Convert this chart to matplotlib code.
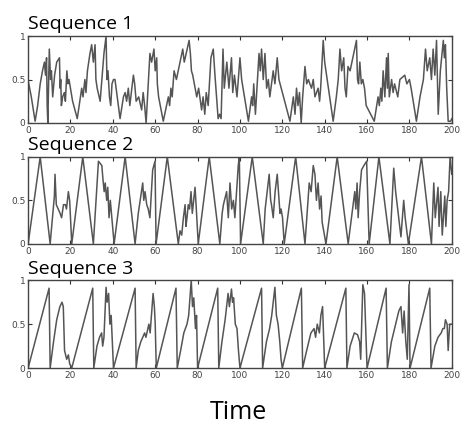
import matplotlib
matplotlib.use("Agg")
import matplotlib.pyplot as plt

# Breakpoints: time, value
t1 = [0, 1.5, 3.3, 4.5, 5.7, 6.8, 7.7, 8.2, 8.7, 9.0, 9.3, 10.0, 10.6, 11.0, 11.6, 12.5, 13.5, 14.8, 15.1, 15.4,
      15.7, 16.3, 17.1, 17.6, 18.3, 18.8, 19.3, 21.0, 23.2, 25.3, 25.9, 26.8, 27.3, 28.0, 28.6, 29.2, 30.0, 30.8, 31.6, 32.0,
      32.6, 34.0, 35.0, 35.8, 36.8, 37.2, 37.7, 38.4, 39.0, 39.6, 40.3, 41.0, 43.4, 45.0, 45.8, 46.5, 47.3, 48.0, 49.7, 50.3,
      51.0, 52.2, 53.6, 54.3, 55.0, 55.7, 57.5, 58.3, 59.4, 60.0, 60.7, 61.0, 61.6, 63.8, 66.2, 66.8, 67.4, 68.0, 68.9, 70.0,
      73.0, 73.7, 76.0, 76.6, 77.1, 77.7, 79.6, 80.5, 81.9, 82.6, 83.4, 84.1, 85.0, 86.3, 87.4, 88.2, 89.7, 90.4, 91.1, 92.0,
      92.6, 93.8, 94.8, 96.0, 96.6, 97.4, 98.6, 100.0, 100.8, 104.0, 105.5, 106.0, 106.5, 107.3, 109.0, 109.6, 110.2, 111.0, 111.8, 112.6,
      113.4, 114.1, 115.7, 116.5, 117.6, 118.4, 123.6, 125.2, 126.0, 126.7, 127.4, 128.1, 128.9, 129.6, 130.7, 131.5, 132.3, 133.0, 133.8, 134.6,
      135.4, 136.9, 137.6, 138.1, 139.3, 140.0, 144.0, 145.5, 146.4, 147.2, 148.0, 149.0, 149.6, 150.2, 151.0, 152.0, 155.0, 155.5, 156.0, 156.6,
      157.3, 158.0, 158.8, 159.6, 163.4, 165.2, 165.8, 166.5, 167.0, 167.6, 168.4, 169.2, 169.6, 170.0, 170.5, 171.6, 172.3, 173.0, 174.5, 175.5,
      177.8, 178.8, 180.0, 180.8, 183.3, 185.0, 186.6, 187.6, 188.4, 189.6, 190.4, 191.2, 192.0, 192.8, 193.6, 194.6, 196.0, 196.5, 197.0, 197.6,
      198.3, 199.5, 200]
v1 = [0.49, 0.3, 0.02, 0.2, 0.45, 0.6, 0.7, 0.55, 0.75, 0.2, 0.0, 0.85, 0.5, 0.6, 0.3, 0.55, 0.7, 0.75, 0.4, 0.5,
      0.2, 0.3, 0.35, 0.25, 0.6, 0.45, 0.5, 0.25, 0.05, 0.4, 0.3, 0.5, 0.35, 0.6, 0.7, 0.8, 0.9, 0.7, 0.9, 0.5,
      0.4, 0.25, 0.55, 0.8, 1.0, 0.5, 0.6, 0.3, 0.2, 0.45, 0.5, 0.5, 0.05, 0.3, 0.35, 0.25, 0.4, 0.2, 0.55, 0.45,
      0.25, 0.3, 0.15, 0.35, 0.2, 0.0, 0.8, 0.7, 0.85, 0.6, 0.75, 0.45, 0.3, 0.02, 0.3, 0.2, 0.4, 0.3, 0.6, 0.5,
      0.85, 0.7, 0.95, 0.8, 0.6, 0.55, 0.3, 0.4, 0.15, 0.3, 0.1, 0.35, 0.2, 0.75, 0.85, 0.55, 0.05, 0.1, 0.05, 0.85,
      0.4, 0.7, 0.4, 0.75, 0.35, 0.55, 0.3, 0.75, 0.5, 0.02, 0.3, 0.2, 0.45, 0.1, 0.8, 0.6, 0.85, 0.5, 0.8, 0.4,
      0.5, 0.3, 0.6, 0.45, 0.75, 0.5, 0.02, 0.3, 0.1, 0.4, 0.2, 0.35, 0.0, 0.3, 0.65, 0.45, 0.5, 0.45, 0.4, 0.5,
      0.3, 0.4, 0.25, 0.4, 0.95, 0.7, 0.02, 0.3, 0.5, 0.85, 0.6, 0.75, 0.4, 0.3, 0.65, 0.6, 0.95, 0.5, 0.45, 0.7,
      0.45, 0.5, 0.4, 0.2, 0.02, 0.3, 0.2, 0.4, 0.25, 0.6, 0.3, 0.75, 0.4, 0.8, 0.3, 0.5, 0.35, 0.45, 0.3, 0.5,
      0.55, 0.45, 0.5, 0.4, 0.02, 0.3, 0.5, 0.85, 0.6, 0.75, 0.5, 0.85, 0.55, 0.95, 0.1, 0.6, 0.95, 0.75, 0.9, 0.4,
      0.02, 0.02, 0.05]

t2 = [0, 5.7, 10.4, 12.4, 12.7, 13.3, 15.1, 15.8, 16.7, 17.6, 18.1, 19.0, 19.6, 20.6, 25.8, 30.8, 33.2, 34.8, 35.3, 35.9,
      36.4, 37.1, 37.6, 38.2, 38.8, 40.6, 45.8, 50.5, 52.0, 54.1, 54.6, 55.2, 56.0, 56.7, 57.5, 58.8, 59.9, 60.4, 65.7, 70.9,
      71.7, 72.5, 73.3, 74.1, 74.5, 75.0, 75.6, 76.2, 76.9, 77.5, 78.8, 79.4, 80.3, 85.5, 90.5, 91.6, 92.2, 93.7, 94.5, 95.3,
      96.1, 96.9, 97.6, 99.2, 99.7, 100.3, 105.8, 111.0, 111.9, 113.8, 114.5, 114.9, 115.7, 116.6, 117.6, 118.9, 119.4, 120.1, 120.9, 126.3,
      130.7, 132.7, 133.6, 134.6, 135.4, 136.1, 136.9, 137.6, 138.3, 138.8, 140.6, 145.9, 151.1, 154.2, 154.7, 155.3, 155.8, 156.5, 157.4, 158.5,
      159.8, 161.0, 165.6, 170.8, 172.6, 173.5, 176.0, 177.3, 178.0, 179.5, 185.7, 190.4, 191.5, 192.2, 193.5, 194.0, 194.8, 195.5, 196.7, 197.2,
      197.8, 198.5, 199.2, 200]
v2 = [0.0, 1.0, 0.0, 0.55, 0.8, 0.45, 0.35, 0.3, 0.45, 0.45, 0.4, 0.6, 0.5, 0.0, 1.0, 0.0, 0.95, 0.9, 0.75, 0.6,
      0.7, 0.5, 0.65, 0.3, 0.5, 0.0, 1.0, 0.0, 0.35, 0.7, 0.5, 0.6, 0.45, 0.4, 0.3, 0.85, 0.95, 0.0, 1.0, 0.0,
      0.15, 0.1, 0.3, 0.45, 0.2, 0.3, 0.45, 0.4, 0.6, 0.35, 0.65, 0.4, 0.0, 1.0, 0.0, 0.35, 0.45, 0.6, 0.3, 0.7,
      0.4, 0.5, 0.3, 0.9, 1.0, 0.0, 1.0, 0.0, 0.4, 0.8, 0.5, 0.45, 0.3, 0.6, 0.8, 0.35, 0.4, 0.3, 0.0, 1.0,
      0.0, 0.7, 0.6, 0.9, 0.8, 0.5, 0.7, 0.4, 0.55, 0.25, 0.0, 1.0, 0.0, 0.6, 0.4, 0.7, 0.3, 0.6, 0.85, 0.9,
      0.95, 0.0, 1.0, 0.0, 0.87, 0.6, 0.08, 0.5, 0.3, 0.0, 1.0, 0.0, 0.7, 0.3, 0.65, 0.2, 0.6, 0.1, 0.55, 0.2,
      0.5, 0.6, 1.0, 0.8]

t3 = [0, 9.9, 10.4, 12.0, 13.5, 15.0, 16.0, 16.6, 17.2, 18.2, 19.0, 19.6, 20.6, 30.5, 31.0, 32.5, 33.7, 34.7, 35.2, 35.8,
      36.8, 37.3, 38.0, 38.6, 39.2, 40.3, 50.5, 51.0, 52.0, 53.2, 55.0, 55.6, 57.0, 57.6, 59.0, 59.6, 60.0, 60.5, 69.8, 70.4,
      72.0, 73.5, 75.0, 75.8, 77.0, 77.6, 78.2, 79.0, 79.5, 80.0, 89.5, 90.0, 91.5, 93.0, 94.4, 95.0, 96.0, 96.5, 97.0, 97.8,
      98.6, 99.3, 100.0, 110.2, 110.7, 112.5, 114.0, 115.0, 116.5, 117.2, 118.0, 118.8, 119.4, 120.0, 129.0, 129.6, 131.5, 133.5, 135.0, 135.7,
      136.5, 137.5, 138.2, 139.0, 140.0, 150.0, 150.5, 152.0, 154.0, 155.5, 156.5, 157.0, 158.0, 158.8, 160.0, 169.0, 169.6, 171.5, 173.5, 175.0,
      176.0, 176.8, 177.5, 178.3, 179.0, 179.8, 180.3, 189.6, 190.2, 192.0, 193.5, 195.0, 195.8, 196.5, 197.0, 197.8, 198.3, 199.0, 200]
v3 = [0.0, 0.91, 0.0, 0.3, 0.55, 0.7, 0.75, 0.7, 0.2, 0.1, 0.15, 0.05, 0.0, 0.91, 0.0, 0.25, 0.35, 0.4, 0.25, 0.35,
      0.92, 0.75, 0.85, 0.5, 0.6, 0.0, 0.91, 0.0, 0.2, 0.3, 0.4, 0.35, 0.5, 0.4, 0.85, 0.7, 0.5, 0.0, 0.91, 0.0,
      0.2, 0.4, 0.5, 0.6, 1.0, 0.7, 0.8, 0.45, 0.6, 0.0, 0.91, 0.0, 0.3, 0.55, 0.85, 0.7, 0.9, 0.75, 0.8, 0.5,
      0.45, 0.2, 0.0, 0.91, 0.0, 0.3, 0.45, 0.6, 0.92, 0.6, 0.5, 0.3, 0.1, 0.0, 0.91, 0.0, 0.2, 0.4, 0.45, 0.35,
      0.5, 0.4, 0.6, 0.7, 0.0, 0.91, 0.0, 0.25, 0.4, 0.38, 0.3, 0.1, 0.95, 0.85, 0.0, 0.91, 0.0, 0.3, 0.5, 0.65,
      0.7, 0.4, 0.65, 0.3, 0.1, 0.95, 0.0, 0.91, 0.0, 0.25, 0.35, 0.4, 0.45, 0.45, 0.55, 0.5, 0.2, 0.5, 0.5]

titles = ["Sequence 1", "Sequence 2", "Sequence 3"]
series = [(t1, v1), (t2, v2), (t3, v3)]

xticks = [0, 20, 40, 60, 80, 100, 120, 140, 160, 180, 200]
yticks = [0, 0.5, 1]
ytick_labels = ["0", "0.5", "1"]

fig = plt.figure(figsize=(4.61, 4.24), dpi=100)

boxes = [(0.061, 0.710, 0.919, 0.205),
         (0.061, 0.425, 0.919, 0.205),
         (0.061, 0.132, 0.919, 0.207)]

for box, title, (t, v) in zip(boxes, titles, series):
    ax = fig.add_axes(box)
    ax.plot(t, v, color="#555555", linewidth=1.1)
    ax.set_xlim(0, 200)
    ax.set_ylim(0, 1)
    ax.set_xticks(xticks)
    ax.set_yticks(yticks)
    ax.set_yticklabels(ytick_labels)
    # matlab-like inward ticks on every side
    ax.tick_params(direction="in", length=3, width=0.8, top=True, right=True,
                   labelsize=6.5, labelcolor="#444444", color="#333333", pad=2)
    for sp in ax.spines.values():
        sp.set_color("#444444")
        sp.set_linewidth(1.0)
    ax.text(0.0, 1.03, title, transform=ax.transAxes, ha="left", va="bottom",
            fontsize=14, family="Open Sans", color="black")

fig.text(0.518, 0.012, "Time", ha="center", va="baseline", fontsize=18, family="Open Sans")

fig.savefig("out.png", dpi=100)
